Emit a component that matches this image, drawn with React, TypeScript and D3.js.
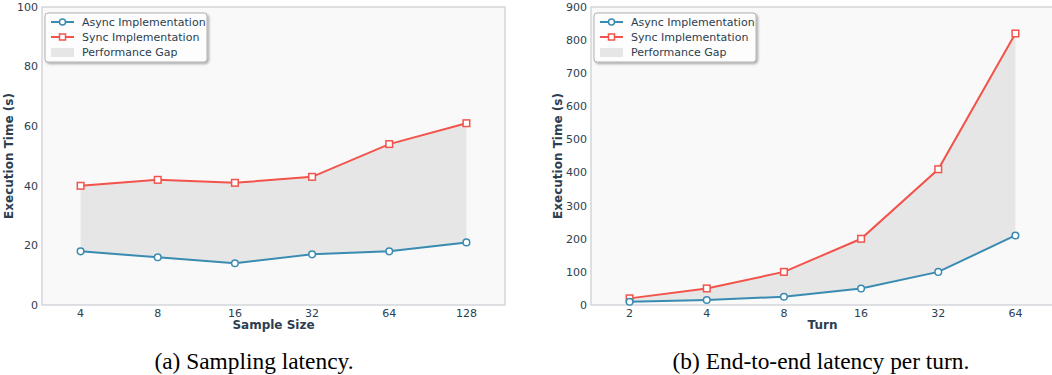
import React from "react";
import * as d3 from "d3";

const sampleSizes = ["4", "8", "16", "32", "64", "128"];
const asyncSampling = [18, 16, 14, 17, 18, 21];
const syncSampling = [40, 42, 41, 43, 54, 61];

const turns = ["2", "4", "8", "16", "32", "64"];
const asyncTurn = [10, 15, 25, 50, 100, 210];
const syncTurn = [20, 50, 100, 200, 410, 820];

const leftTicks = [0, 20, 40, 60, 80, 100];
const rightTicks = [0, 100, 200, 300, 400, 500, 600, 700, 800, 900];

const BLUE = "#3a8bb1";
const RED = "#f2534b";
const TXT = "#2c3e50";
const FONT = "'DejaVu Sans', sans-serif";
const SERIF = "'Liberation Serif', 'DejaVu Serif', serif";

type PanelProps = {
  x0: number;
  x1: number;
  cats: string[];
  a: number[];
  s: number[];
  yMax: number;
  ticks: number[];
  xLabel: string;
  caption: string;
  capX: number;
  id: string;
};

function Panel({ x0, x1, cats, a, s, yMax, ticks, xLabel, caption, capX, id }: PanelProps) {
  const top = 7;
  const bottom = 305;
  const x = d3.scaleLinear().domain([-0.5, cats.length - 0.5]).range([x0, x1]);
  const y = d3.scaleLinear().domain([0, yMax]).range([bottom, top]);
  const idx = cats.map((_, i) => i);
  const line = (vals: number[]) =>
    d3.line<number>().x((i) => x(i)).y((i) => y(vals[i]))(idx) || "";
  const area =
    d3
      .area<number>()
      .x((i) => x(i))
      .y0((i) => y(a[i]))
      .y1((i) => y(s[i]))(idx) || "";
  const lx = x0 + 3;
  const ly = 13;
  const t = { fontFamily: FONT } as React.CSSProperties;
  const LF = 11;
  return (
    <g>
      <rect x={x0} y={top} width={x1 - x0} height={bottom - top} fill="#f9f9f9" />
      <path d={area} fill="#e6e6e6" />
      <rect x={x0} y={top} width={x1 - x0} height={bottom - top} fill="none" stroke="#c8ccd0" strokeWidth={1.2} />
      {ticks.map((v) => (
        <text key={v} x={x0 - 4} y={y(v)} dy="0.35em" textAnchor="end" fontSize={11} fill={TXT} style={t}>
          {v}
        </text>
      ))}
      {cats.map((c, i) => (
        <text key={c} x={x(i)} y={bottom + 12} textAnchor="middle" fontSize={11} fill={TXT} style={t}>
          {c}
        </text>
      ))}
      <text x={(x0 + x1) / 2} y={bottom + 24} textAnchor="middle" fontSize={12} fontWeight="bold" fill={TXT} style={t}>
        {xLabel}
      </text>
      <text
        transform={`translate(${x0 - 29},${(top + bottom) / 2}) rotate(-90)`}
        textAnchor="middle"
        fontSize={12}
        fontWeight="bold"
        fill={TXT}
        style={t}
      >
        Execution Time (s)
      </text>
      <path d={line(s)} fill="none" stroke={RED} strokeWidth={2} />
      <path d={line(a)} fill="none" stroke={BLUE} strokeWidth={2} />
      {idx.map((i) => (
        <rect key={"s" + i} x={x(i) - 3.3} y={y(s[i]) - 3.3} width={6.6} height={6.6} fill="white" stroke={RED} strokeWidth={1.5} />
      ))}
      {idx.map((i) => (
        <circle key={"a" + i} cx={x(i)} cy={y(a[i])} r={3.3} fill="white" stroke={BLUE} strokeWidth={1.5} />
      ))}
      <defs>
        <filter id={"sh" + id} x="-10%" y="-10%" width="130%" height="140%">
          <feDropShadow dx="1.5" dy="1.5" stdDeviation="0.8" floodColor="#000" floodOpacity="0.35" />
        </filter>
      </defs>
      <rect x={lx} y={ly} width={162} height={49} rx={3} fill="white" fillOpacity={0.95} stroke="#b0b0b0" strokeWidth={1} filter={`url(#sh${id})`} />
      <line x1={lx + 6} x2={lx + 29} y1={ly + 9} y2={ly + 9} stroke={BLUE} strokeWidth={2} />
      <circle cx={lx + 17.5} cy={ly + 9} r={3} fill="white" stroke={BLUE} strokeWidth={1.5} />
      <text x={lx + 37} y={ly + 9} dy="0.35em" fontSize={LF} fill={TXT} style={t}>
        Async Implementation
      </text>
      <line x1={lx + 6} x2={lx + 29} y1={ly + 24} y2={ly + 24} stroke={RED} strokeWidth={2} />
      <rect x={lx + 14.5} y={ly + 21} width={6} height={6} fill="white" stroke={RED} strokeWidth={1.5} />
      <text x={lx + 37} y={ly + 24} dy="0.35em" fontSize={LF} fill={TXT} style={t}>
        Sync Implementation
      </text>
      <rect x={lx + 6} y={ly + 35} width={23} height={9} fill="#e6e6e6" />
      <text x={lx + 37} y={ly + 39} dy="0.35em" fontSize={LF} fill={TXT} style={t}>
        Performance Gap
      </text>
      <text x={capX} y={369} textAnchor="middle" fontSize={23.4} fill="#000" style={{ fontFamily: SERIF }}>
        {caption}
      </text>
    </g>
  );
}

export default function App() {
  return (
    <svg width={1052} height={375} style={{ position: "absolute", left: 0, top: 0, background: "white" }}>
      <Panel x0={42} x1={505} cats={sampleSizes} a={asyncSampling} s={syncSampling} yMax={100} ticks={leftTicks} xLabel="Sample Size" caption="(a) Sampling latency." capX={254} id="a" />
      <Panel x0={591} x1={1054} cats={turns} a={asyncTurn} s={syncTurn} yMax={900} ticks={rightTicks} xLabel="Turn" caption="(b) End-to-end latency per turn." capX={821} id="b" />
    </svg>
  );
}
